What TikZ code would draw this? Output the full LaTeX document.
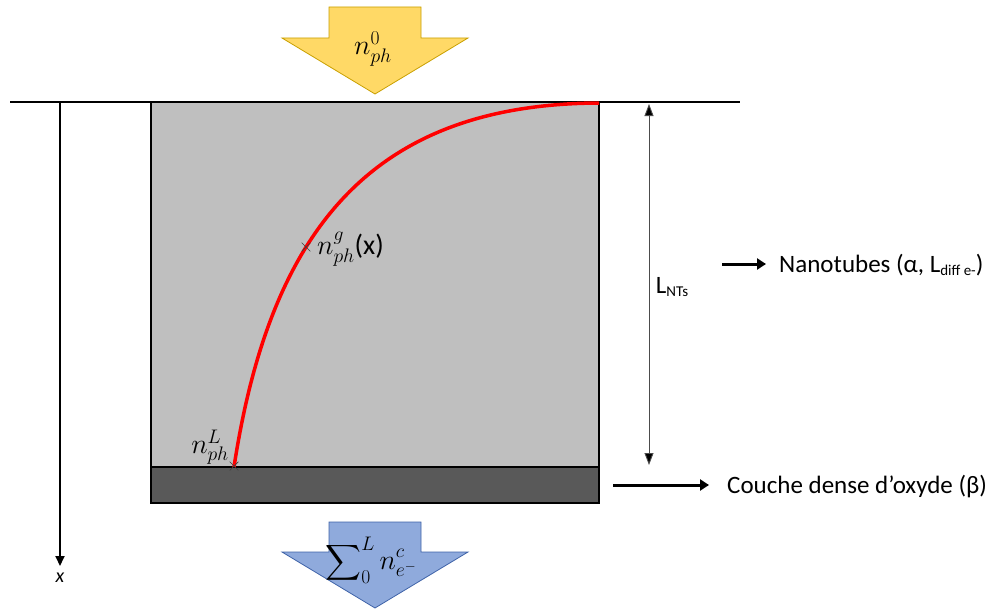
\RequirePackage{fix-cm}
\documentclass[tikz,border=0pt]{standalone}
\usepackage{exscale}
\usepackage{fontspec}
\setmainfont{Carlito}
\usetikzlibrary{arrows.meta,shapes.misc}
\definecolor{ygfill}{HTML}{FFD966}
\definecolor{ygdraw}{HTML}{C9A000}
\definecolor{blfill}{HTML}{8FAADC}
\definecolor{bldraw}{HTML}{3F63A8}
\definecolor{ntgray}{HTML}{BFBFBF}
\definecolor{oxgray}{HTML}{595959}
\begin{document}
\begin{tikzpicture}[x=1pt,y=-1pt,
  lbl/.style={inner sep=0pt, font=\fontsize{25}{30}\selectfont},
  mlbl/.style={inner sep=0pt, font=\fontsize{28}{32}\selectfont},
  xmark/.style={cross out, draw=black!75, line width=0.7pt, minimum size=8pt, inner sep=0pt},
  bigarrow/.style={line width=3pt, -{Triangle[width=11pt,length=9pt]}},
  dimarrow/.style={draw=black!70, line width=0.9pt, {Triangle[width=9pt,length=12pt,fill=black]}-{Triangle[width=9pt,length=12pt,fill=black]}}
]
\useasboundingbox (0,0) rectangle (993,610);
% incoming / outgoing flux arrows
\draw[fill=ygfill, draw=ygdraw, line width=0.8pt] (329,7) -- (421,7) -- (421,38) -- (468,38) -- (375,94) -- (282,38) -- (329,38) -- cycle;
\draw[fill=blfill, draw=bldraw, line width=0.8pt] (329,522) -- (421,522) -- (421,552) -- (468,552) -- (375,608) -- (282,552) -- (329,552) -- cycle;
\node[mlbl] (n0) at (373,49) {$n_{ph}^{0}$};
\node[mlbl] (sum) at (371,560) {$\displaystyle\sum\nolimits_{0}^{L} n_{e^-}^{c}$};
% layers
\draw[fill=ntgray, draw=black, line width=1.2pt] (151,102) rectangle (599,467);
\draw[fill=oxgray, draw=black, line width=1.2pt] (151,467) rectangle (599,503);
% surface line
\coordinate (sL) at (10,102);
\coordinate (sR) at (740,102);
\draw[line width=2pt] (sL) -- (sR);
% depth axis
\coordinate (ax0) at (60,102);
\coordinate (ax1) at (60,566);
\draw[line width=1.8pt, -{Triangle[width=9pt,length=10pt]}] (ax0) -- (ax1);
\node[inner sep=0pt, font=\fontsize{20}{22}\selectfont\itshape] (xl) at (60,578) {x};
% profile
\coordinate (c0) at (599,103);
\coordinate (c1) at (234,467);
\draw[red, line width=3.5pt] (c0) .. controls (370,104) and (270,232) .. (c1);
\node[xmark] (pg) at (306,247) {};
\node[xmark] (pL) at (234,466) {};
\node[mlbl, anchor=west] (lg) at (317,249) {$n_{ph}^{g}$(x)};
\node[mlbl, anchor=east] (lL) at (229,447) {$n_{ph}^{L}$};
% thickness
\coordinate (d0) at (649,104);
\coordinate (d1) at (649,465);
\draw[dimarrow] (d0) -- (d1);
\node[lbl] (lnt) at (672,287) {L\raisebox{-0.3ex}{\fontsize{15}{15}\selectfont NTs}};
% legends
\node[lbl, anchor=west] (nano) at (779,265) {Nanotubes (α, L\raisebox{-0.3ex}{\fontsize{15}{15}\selectfont diff e-})};
\coordinate (a1s) at (722,264);
\coordinate (a1e) at (766,264);
\draw[bigarrow] (a1s) -- (a1e);
\node[lbl, anchor=west] (couche) at (727,487) {Couche dense d’oxyde (β)};
\coordinate (a2s) at (613,485);
\coordinate (a2e) at (709,485);
\draw[bigarrow] (a2s) -- (a2e);
\end{tikzpicture}
\end{document}
